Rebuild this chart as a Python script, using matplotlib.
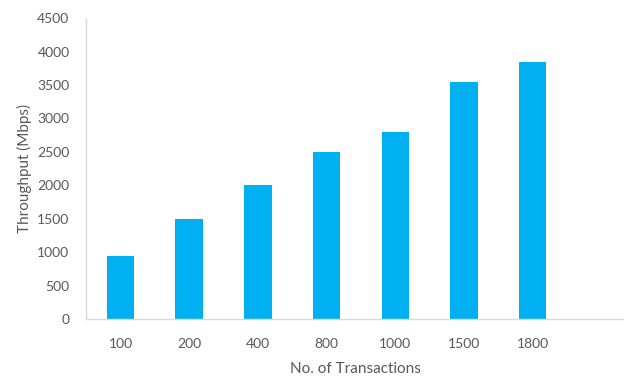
import matplotlib
matplotlib.use("Agg")
import matplotlib.pyplot as plt
import numpy as np

transactions = ["100", "200", "400", "800", "1000", "1500", "1800"]
throughput = [950, 1500, 2000, 2500, 2800, 3550, 3850]
y_ticks = [0, 500, 1000, 1500, 2000, 2500, 3000, 3500, 4000, 4500]

BAR = "#00B0F0"
TEXT = "#595959"
AXIS = "#D9D9D9"

plt.rcParams["font.family"] = ["Lato", "DejaVu Sans"]

fig = plt.figure(figsize=(6.24, 3.78), dpi=100)
ax = fig.add_axes([0.138, 0.156, 0.862, 0.796])

x = np.arange(len(transactions))
ax.bar(x, throughput, width=0.4, color=BAR)

ax.set_xlim(-0.5, 7.33)
ax.set_ylim(0, 4500)
ax.set_yticks(y_ticks)
ax.set_xticks(x)
ax.set_xticklabels(transactions)

for side in ["top", "right"]:
    ax.spines[side].set_visible(False)
ax.spines["left"].set_color(AXIS)
ax.spines["bottom"].set_color(AXIS)
ax.spines["left"].set_linewidth(1.0)
ax.spines["bottom"].set_linewidth(1.0)

ax.tick_params(axis="both", length=0, labelsize=10, colors=TEXT)
ax.tick_params(axis="y", pad=12)
ax.tick_params(axis="x", pad=14)

ax.set_xlabel("No. of Transactions", fontsize=11, color=TEXT, labelpad=8)
ax.set_ylabel("Throughput (Mbps)", fontsize=11, color=TEXT, labelpad=4)

fig.savefig("out.png", dpi=100)
